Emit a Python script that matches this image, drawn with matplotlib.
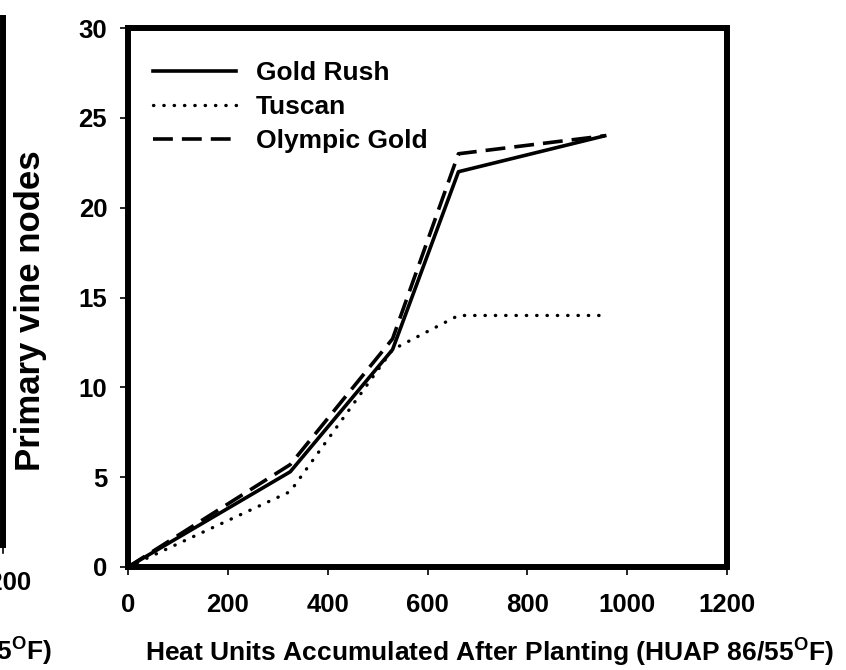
import matplotlib
matplotlib.use("Agg")
import matplotlib.pyplot as plt
from matplotlib.lines import Line2D

plt.rcParams['font.family'] = ['Liberation Sans', 'DejaVu Sans']
plt.rcParams['font.weight'] = 'bold'
plt.rcParams['mathtext.fontset'] = 'custom'
plt.rcParams['mathtext.rm'] = 'Liberation Sans:bold'
plt.rcParams['mathtext.bf'] = 'Liberation Sans:bold'

# heat units (HUAP 86/55 F) at each sampling date
huap = [0, 325, 530, 662, 955]
gold_rush = [0, 5.3, 12.1, 22.0, 24.0]
tuscan = [0, 4.2, 12.1, 14.0, 14.0]
olympic_gold = [0, 5.7, 12.7, 23.0, 24.0]

xticks = [0, 200, 400, 600, 800, 1000, 1200]
yticks = [0, 5, 10, 15, 20, 25, 30]

W, H = 846, 670
fig = plt.figure(figsize=(W / 100, H / 100), dpi=100)
ax = fig.add_axes([128 / W, 1 - 567 / H, (727 - 128) / W, (567 - 28) / H])

ax.plot(huap, gold_rush, color='black', lw=2.6, linestyle='-', label='Gold Rush')
ax.plot(huap, tuscan, color='black', lw=2.4, linestyle=(0, (0.1, 3.0)),
        dash_capstyle='round', label='Tuscan')
ax.plot(huap, olympic_gold, color='black', lw=2.6, linestyle=(0, (5.5, 2.5)),
        label='Olympic Gold')

ax.set_xlim(0, 1200)
ax.set_ylim(0, 30)
ax.set_xticks(xticks)
ax.set_yticks(yticks)
for s in ax.spines.values():
    s.set_linewidth(4.3)
ax.tick_params(axis='both', direction='out', length=6, width=1.2, labelsize=18.5)
ax.tick_params(axis='x', pad=13)
ax.tick_params(axis='y', pad=9)

ax.set_ylabel('Primary vine nodes', fontsize=25, fontweight='bold', va='center')
ax.yaxis.set_label_coords((31 - 128) / 599, (567 - 311) / 539)
ax.set_xlabel('Heat Units Accumulated After Planting (HUAP 86/55$^{\\mathrm{O}}$F)',
              fontsize=19, fontweight='bold', va='baseline')
ax.xaxis.set_label_coords((489 - 128) / 599, (567 - 661) / 539)

ax.legend(loc='upper left', frameon=False, fontsize=19, handlelength=3.15,
          handletextpad=0.76, labelspacing=0.38, borderaxespad=0,
          bbox_to_anchor=(0.0234, 0.958))

# edge of the neighbouring panel that shows at the left of the picture
fig.add_artist(Line2D([3 / W, 3 / W], [1 - 18 / H, 1 - 545 / H],
                      color='black', lw=4.3, transform=fig.transFigure))
fig.add_artist(Line2D([3 / W, 3 / W], [1 - 545 / H, 1 - 553 / H],
                      color='black', lw=1.2, transform=fig.transFigure))
fig.text(32 / W, 1 - 590 / H, '1200', ha='right', va='baseline', fontsize=18.5,
         fontweight='bold')
fig.text(52 / W, 1 - 660 / H, '86/55$^{\\mathrm{O}}$F)', ha='right', va='baseline',
         fontsize=19, fontweight='bold')

fig.savefig('out.png', dpi=100)
